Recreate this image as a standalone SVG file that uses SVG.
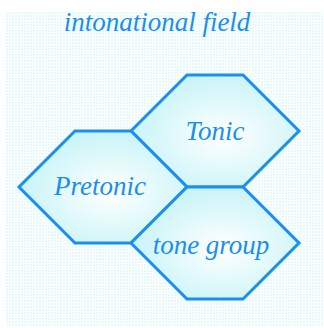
<svg xmlns="http://www.w3.org/2000/svg" width="324" height="328" viewBox="0 0 324 328">
<defs>
<pattern id="dots" width="3" height="3" patternUnits="userSpaceOnUse">
<rect width="3" height="3" fill="#ffffff"/>
<rect width="2" height="2" fill="#e4fafb"/>
</pattern>
<radialGradient id="hexfill" cx="0.55" cy="0.55" r="0.6">
<stop offset="0" stop-color="#ffffff"/>
<stop offset="1" stop-color="#c4f3f7"/>
</radialGradient>
<style>
.hex{fill:url(#hexfill);stroke:#1a8ff0;stroke-width:3;stroke-linejoin:miter}
.lbl{font-style:italic;fill:#1a8ff0;text-anchor:middle}
</style>
</defs>
<rect x="6" y="12" width="318" height="315" fill="url(#dots)"/>
<text class="lbl" x="157" y="31" font-size="27" font-family="'Liberation Serif', 'DejaVu Serif', serif">intonational field</text>
<g id="tonic">
<polygon class="hex" points="187,75 243,75 299,131 243,187 187,187 131,131"/>
<text class="lbl" x="215" y="140" font-size="27" font-family="'Liberation Serif', 'DejaVu Serif', serif">Tonic</text>
</g>
<g id="pretonic">
<polygon class="hex" points="75,131 131,131 187,187 131,243 75,243 19,187"/>
<text class="lbl" x="100" y="195" font-size="27" font-family="'Liberation Serif', 'DejaVu Serif', serif">Pretonic</text>
</g>
<g id="tonegroup">
<polygon class="hex" points="187,187 243,187 299,243 243,299 187,299 131,243"/>
<text class="lbl" x="211" y="254" font-size="27" font-family="'Liberation Serif', 'DejaVu Serif', serif">tone group</text>
</g>
<g id="connectors"/>
</svg>
